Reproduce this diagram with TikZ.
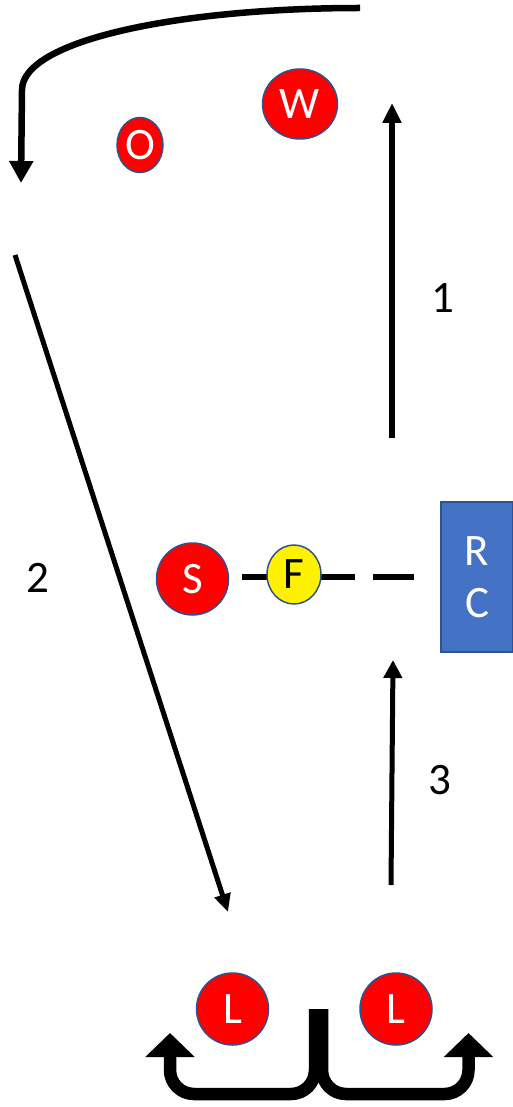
\documentclass[tikz,border=0pt]{standalone}
\usepackage{fontspec}
\setmainfont{Carlito}
\usetikzlibrary{arrows.meta,shapes.geometric}
\definecolor{edgeblue}{HTML}{2F528F}
\definecolor{boxblue}{HTML}{4472C4}
\begin{document}
\begin{tikzpicture}[x=1pt,y=-1pt,
  big/.style={font=\fontsize{45}{52}\selectfont},
  player/.style={ellipse,draw=edgeblue,line width=1.5pt,fill=red,text=white,inner sep=0pt,big},
  yplayer/.style={player,fill=yellow,text=black},
  lbl/.style={big,inner sep=0pt}]
\useasboundingbox (0,0) rectangle (512,1107);
% coordinates
\coordinate (a0) at (360,8);
\coordinate (a1) at (21,183);
\coordinate (b0) at (392,438);
\coordinate (b1) at (392,103);
\coordinate (c0) at (15,255);
\coordinate (c1) at (228,912);
\coordinate (d0) at (391,885);
\coordinate (d1) at (393,660);
\coordinate (e0) at (242,577);
\coordinate (e1) at (355,577);
\coordinate (e2) at (373,577);
\coordinate (e3) at (414,577);
\coordinate (u1) at (315,1009);
\coordinate (u1t) at (170,1033);
\coordinate (u2) at (322,1009);
\coordinate (u2t) at (468.5,1033);
% pass line
\draw[line width=6pt] (e0) -- (e1);
\draw[line width=6pt] (e2) -- (e3);
% players
\node[player,minimum width=46pt,minimum height=55pt] (O) at (140,145) {O};
\node[player,minimum width=75pt,minimum height=70pt] (W) at (300,104) {W};
\node[player,minimum width=72pt,minimum height=72pt] (S) at (192.5,579) {S};
\node[yplayer,minimum width=54pt,minimum height=59pt] (F) at (294,574.5) {F};
\node[player,minimum width=72pt,minimum height=72pt] (L1) at (232.5,1009) {L};
\node[player,minimum width=72pt,minimum height=72pt] (L2) at (396,1009) {L};
\node[rectangle,draw=edgeblue,line width=1.2pt,fill=boxblue,text=white,
  minimum width=72pt,minimum height=150pt,align=center,big,inner sep=0pt] (RC) at (477,577) {R\\C};
% labels
\node[lbl] (n1) at (443,298) {1};
\node[lbl] (n2) at (38,578) {2};
\node[lbl] (n3) at (440,780) {3};
% arrows
\draw[line width=6.5pt,-{Triangle[width=23pt,length=22pt]}] (a0) .. controls (180,8) and (22,40) .. (22,90) -- (a1);
\draw[line width=6pt,-{Triangle[width=18pt,length=20pt]}] (b0) -- (b1);
\draw[line width=5pt,-{Triangle[width=16pt,length=18pt]}] (c0) -- (c1);
\draw[line width=5pt,-{Triangle[width=18pt,length=18pt]}] (d0) -- (d1);
% U-turn arrows
\draw[line width=12.5pt,rounded corners=24pt,-{Triangle[width=48pt,length=24pt]}] (u1) -- (315,1094) -- (170,1094) -- (u1t);
\draw[line width=12.5pt,rounded corners=24pt,-{Triangle[width=48pt,length=24pt]}] (u2) -- (322,1094) -- (468.5,1094) -- (u2t);
\end{tikzpicture}
\end{document}
